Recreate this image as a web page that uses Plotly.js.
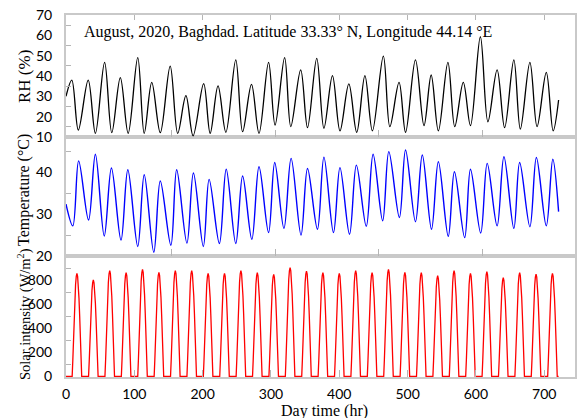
<!DOCTYPE html>
<html>
<head>
<meta charset="utf-8">
<script src="https://cdn.plot.ly/plotly-3.0.1.min.js"></script>
<style>html,body{margin:0;padding:0;background:#fff;}#chart{width:579px;height:418px;}</style>
</head>
<body>
<div id="chart"></div>
<script>
// ---- data ----
const rhHours = [0, 8.5, 18, 32.5, 43, 56.5, 67, 79.5, 91, 105, 114.5, 125.5, 138, 152.5, 163.5, 175.5, 186, 201.5, 211, 222.5, 234, 248.5, 258.5, 271.5, 282.5, 296.5, 306, 320, 329, 343.5, 353.5, 367, 377.5, 390, 401, 414, 425.5, 437.5, 448.5, 464.5, 474, 487.5, 497, 511.5, 524, 534.5, 545, 559, 569, 581.5, 592, 606.5, 617.5, 631, 642, 655.5, 665, 679, 689.5, 703, 713, 721];
const rhValues = [30, 38, 13.4, 38, 11.8, 46.7, 12.1, 39.2, 11.8, 49, 11.8, 36.9, 12.1, 44.9, 11.8, 30.3, 10.6, 36.2, 11.8, 35.1, 12.3, 47.9, 12.6, 35.9, 11.8, 46.7, 15.9, 49, 15.1, 43, 14.6, 48.7, 14.3, 40.2, 13, 36.1, 12.3, 40.2, 13, 49.8, 15.1, 36.9, 12.3, 47.9, 15.6, 40.5, 13, 46.7, 15.1, 36.9, 15.6, 59.3, 17.5, 43, 14.6, 47.9, 13.9, 46.7, 15.1, 41.8, 13, 28.2];

const tempHours = [0, 10, 18.5, 33, 43, 56, 66.5, 80.5, 90.5, 105, 114.5, 128.5, 138, 153.5, 162, 177, 186.5, 201, 209.5, 224.5, 234.5, 248.5, 258.5, 272, 282.5, 296.5, 305.5, 319, 329.5, 344, 353.5, 368, 377.5, 391.5, 401, 415, 425, 439.5, 449.5, 463.5, 472.5, 488, 497, 511.5, 521.5, 535, 545, 559.5, 568.5, 583.5, 592, 607, 616.5, 631, 641, 655.5, 664, 679, 688.5, 703, 712.5, 721];
const tempValues = [32.4, 27.2, 42.7, 28.6, 44.3, 24.8, 41.0, 23.8, 40.6, 22.3, 39.4, 20.9, 37.9, 22.6, 40.6, 23.1, 39.8, 22.3, 38.3, 23.0, 40.7, 23.0, 39.1, 24.0, 41.3, 25.6, 42.3, 26.6, 43.3, 25.0, 40.9, 26.4, 43.6, 25.6, 41.1, 25.2, 41.7, 27.1, 44.3, 28.4, 44.9, 29.2, 45.3, 28.2, 44.1, 26.4, 42.5, 24.7, 40.1, 24.4, 40.7, 25.5, 42.1, 27.2, 43.7, 26.6, 42.3, 27.0, 43.5, 27.2, 43.1, 30.6];

// hourly solar intensity (W/m2), hour 0 .. 721
const solarHourly = [
0,0,0,0,0,0,0,0,0,0, 137,334,506,651,763,831,857,831,763,651,506,334,137,
0,0,0,0,0,0,0,0,0,0,0, 128,313,473,610,714,778,802,778,714,610,473,313,128,
0,0,0,0,0,0,0,0,0,0,0, 141,343,519,668,782,853,879,853,782,668,519,343,141,
0,0,0,0,0,0,0,0,0,0,0, 138,336,509,655,767,836,862,836,767,655,509,336,138,
0,0,0,0,0,0,0,0,0,0,0, 142,347,525,676,792,863,890,863,792,676,525,347,142,
0,0,0,0,0,0,0,0,0,0,0, 138,337,510,657,770,839,865,839,770,657,510,337,138,
0,0,0,0,0,0,0,0,0,0,0, 141,343,519,668,782,853,879,853,782,668,519,343,141,
0,0,0,0,0,0,0,0,0,0,0, 141,343,519,668,782,853,879,853,782,668,519,343,141,
0,0,0,0,0,0,0,0,0,0,0, 137,334,506,651,763,831,857,831,763,651,506,334,137,
0,0,0,0,0,0,0,0,0,0,0, 137,334,506,651,763,831,857,831,763,651,506,334,137,
0,0,0,0,0,0,0,0,0,0,0, 141,343,519,668,782,853,879,853,782,668,519,343,141,
0,0,0,0,0,0,0,0,0,0,0, 138,336,509,655,767,836,862,836,767,655,509,336,138,
0,0,0,0,0,0,0,0,0,0,0, 136,331,501,645,756,824,849,824,756,645,501,331,136,
0,0,0,0,0,0,0,0,0,0,0, 145,353,533,687,805,877,904,877,805,687,533,353,145,
0,0,0,0,0,0,0,0,0,0,0, 140,342,517,666,780,850,876,850,780,666,517,342,140,
0,0,0,0,0,0,0,0,0,0,0, 138,336,509,655,767,836,862,836,767,655,509,336,138,
0,0,0,0,0,0,0,0,0,0,0, 137,334,506,651,763,831,857,831,763,651,506,334,137,
0,0,0,0,0,0,0,0,0,0,0, 141,343,519,668,782,853,879,853,782,668,519,343,141,
0,0,0,0,0,0,0,0,0,0,0, 138,336,509,655,767,836,862,836,767,655,509,336,138,
0,0,0,0,0,0,0,0,0,0,0, 142,347,525,676,792,863,890,863,792,676,525,347,142,
0,0,0,0,0,0,0,0,0,0,0, 138,337,510,657,770,839,865,839,770,657,510,337,138,
0,0,0,0,0,0,0,0,0,0,0, 138,336,509,655,767,836,862,836,767,655,509,336,138,
0,0,0,0,0,0,0,0,0,0,0, 134,326,494,636,745,812,837,812,745,636,494,326,134,
0,0,0,0,0,0,0,0,0,0,0, 141,343,519,668,782,853,879,853,782,668,519,343,141,
0,0,0,0,0,0,0,0,0,0,0, 137,334,506,651,763,831,857,831,763,651,506,334,137,
0,0,0,0,0,0,0,0,0,0,0, 139,339,513,661,774,844,870,844,774,661,513,339,139,
0,0,0,0,0,0,0,0,0,0,0, 131,320,484,624,731,796,821,796,731,624,484,320,131,
0,0,0,0,0,0,0,0,0,0,0, 138,336,509,655,767,836,862,836,767,655,509,336,138,
0,0,0,0,0,0,0,0,0,0,0, 136,332,502,647,757,825,851,825,757,647,502,332,136,
0,0,0,0,0,0,0,0,0,0,0, 137,334,506,651,763,831,857,831,763,651,506,334,137,
0,0,0
];

const xTickVals = [0, 100, 200, 300, 400, 500, 600, 700];
const innerTickVals = [155, 307, 458, 610];
const rhTicks = [10, 20, 30, 40, 50, 60, 70];
const rhMinor = [15, 25, 35, 45, 55, 65];
const tempTicks = [20, 30, 40];
const tempMinor = [25, 35, 45];
const solarTicks = [0, 200, 400, 600, 800];
const solarMinor = [100, 300, 500, 700, 900];

// ---- styling ----
const frame = '#c9c9c9';
const tickCol = '#b5b5b5';
const tickFont = {family: 'Lato, "Liberation Sans", sans-serif', size: 14, color: '#000'};
const serif = 'Liberation Serif, "Times New Roman", serif';
const xr = [0, 745];

function yAx(domain, range, tv, minor) {
  return {
    domain: domain, range: range, tickmode: 'array', tickvals: tv,
    ticks: '', showgrid: false, zeroline: false, showline: true, mirror: true,
    linecolor: frame, linewidth: 2, tickfont: tickFont, ticklabelstandoff: 9,
    minor: {tickmode: 'array', tickvals: minor, ticks: 'inside', ticklen: 5, tickcolor: tickCol, tickwidth: 1, showgrid: false}
  };
}
function xAx(anchor, tv, extra) {
  return Object.assign({
    anchor: anchor, range: xr, tickmode: 'array', tickvals: tv, ticks: 'inside',
    ticklen: 7, tickcolor: tickCol, tickwidth: 1, showgrid: false, zeroline: false,
    showline: true, mirror: true, linecolor: frame, linewidth: 2, showticklabels: false
  }, extra || {});
}

const traces = [
  {x: rhHours, y: rhValues, xaxis: 'x3', yaxis: 'y3', mode: 'lines', line: {color: '#000', width: 1.3, shape: 'spline'}, hoverinfo: 'skip'},
  {x: tempHours, y: tempValues, xaxis: 'x2', yaxis: 'y2', mode: 'lines', line: {color: '#0000ff', width: 1.4, shape: 'spline'}, hoverinfo: 'skip'},
  {x0: 0, dx: 1, y: solarHourly, xaxis: 'x', yaxis: 'y', mode: 'lines', line: {color: '#ff0000', width: 1.3}, hoverinfo: 'skip'},
  {x: [], y: [], xaxis: 'x4', yaxis: 'y3', mode: 'lines', hoverinfo: 'skip'}
];

const layout = {
  width: 579, height: 418,
  margin: {l: 66, r: 4, t: 15, b: 41},
  paper_bgcolor: '#fff', plot_bgcolor: '#fff',
  showlegend: false,
  xaxis: xAx('y', xTickVals, {showticklabels: true, tickfont: tickFont, ticklabelstandoff: 3}),
  xaxis2: xAx('y2', innerTickVals),
  xaxis3: xAx('y3', innerTickVals),
  xaxis4: xAx('y3', xTickVals.slice(1), {overlaying: 'x3', side: 'top', showline: false, mirror: false, ticklen: 5}),
  yaxis: yAx([0, 0.334], [-4, 1000], solarTicks, solarMinor),
  yaxis2: yAx([0.334, 0.663], [20, 48.4], tempTicks, tempMinor),
  yaxis3: yAx([0.663, 1], [10, 70], rhTicks, rhMinor),
  annotations: [
    {text: 'August, 2020, Baghdad. Latitude 33.33° N, Longitude 44.14 °E', xref: 'paper', yref: 'paper',
     x: (82 - 66) / 509, y: (377 - 32) / 362, xanchor: 'left', yanchor: 'middle', showarrow: false,
     font: {family: serif, size: 16, color: '#000'}},
    {text: 'RH (%)', xref: 'paper', yref: 'paper', x: (24 - 66) / 509, y: (377 - 77) / 362, textangle: -90,
     xanchor: 'center', yanchor: 'middle', showarrow: false, font: {family: serif, size: 17, color: '#000'}},
    {text: 'Temperature (°C)', xref: 'paper', yref: 'paper', x: (24 - 66) / 509, y: (377 - 190) / 362, textangle: -90,
     xanchor: 'center', yanchor: 'middle', showarrow: false, font: {family: serif, size: 16, color: '#000'}},
    {text: 'Solar intensity (W/m<sup>2</sup>)', xref: 'paper', yref: 'paper', x: (24 - 66) / 509, y: (377 - 314) / 362, textangle: -90,
     xanchor: 'center', yanchor: 'middle', showarrow: false, font: {family: serif, size: 14.5, color: '#000'}},
    {text: 'Day time (hr)', xref: 'paper', yref: 'paper', x: (324 - 66) / 509, y: (377 - 411) / 362,
     xanchor: 'center', yanchor: 'middle', showarrow: false, font: {family: serif, size: 16, color: '#000'}}
  ]
};

Plotly.newPlot('chart', traces, layout, {displayModeBar: false, staticPlot: true});
</script>
</body>
</html>
